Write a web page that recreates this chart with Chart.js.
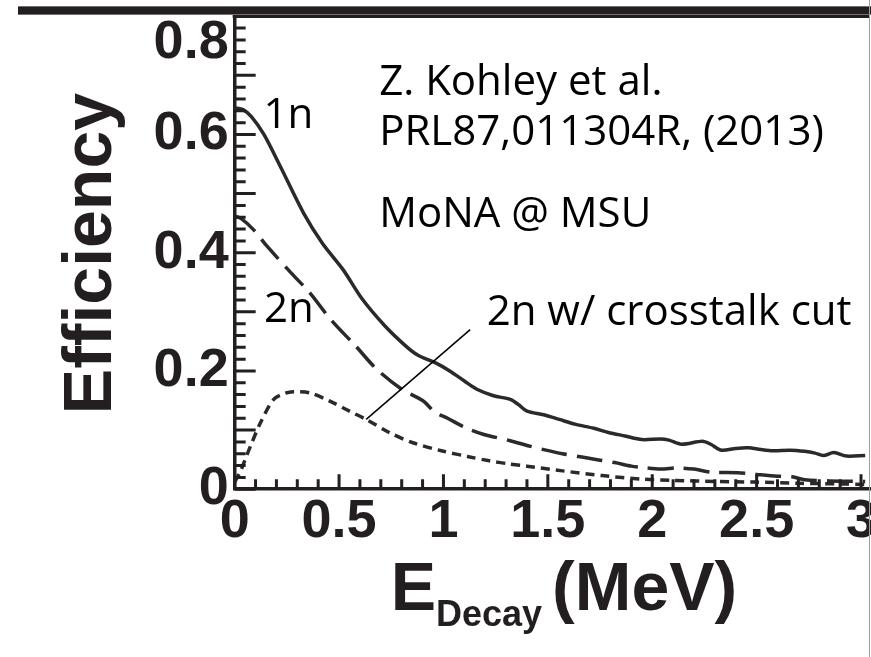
<!DOCTYPE html>
<html>
<head>
<meta charset="utf-8">
<script src="https://cdn.jsdelivr.net/npm/chart.js@4.4.1/dist/chart.umd.min.js"></script>
<style>
  html, body { margin: 0; padding: 0; background: #fff; overflow: hidden; width: 871px; height: 657px; }
  #wrap { position: absolute; left: 0; top: -60px; width: 920px; height: 717px; }
  #banner { position: absolute; left: 18px; top: 6px; width: 853px; height: 7px; background: #231f20;
            border-top: 1px solid #707070; border-bottom: 1px solid #707070; }
  #edge { position: absolute; left: 869px; top: 0; width: 1px; height: 657px; background: #a0a0a0; }
</style>
</head>
<body>
<div id="wrap"><canvas id="chart"></canvas></div>
<div id="banner"></div>
<div id="edge"></div>
<script>
// efficiency vs decay energy (Kohley et al.)
const energy1n = [0, 0.04, 0.08, 0.14, 0.22, 0.33, 0.42, 0.52, 0.61, 0.72, 0.82, 0.88, 0.96, 1.03, 1.1,
  1.16, 1.24, 1.32, 1.36, 1.4, 1.48, 1.555, 1.63, 1.72, 1.79, 1.87, 1.95, 2.04, 2.08, 2.14,
  2.24, 2.28, 2.33, 2.4, 2.46, 2.52, 2.58, 2.66, 2.73, 2.78, 2.82, 2.87, 2.93, 3.02];
const eff1n = [0.645, 0.642, 0.63, 0.6, 0.545, 0.467, 0.416, 0.371, 0.322, 0.276, 0.242, 0.226, 0.214, 0.2, 0.183,
  0.169, 0.158, 0.152, 0.143, 0.132, 0.126, 0.118, 0.11, 0.103, 0.096, 0.09, 0.084, 0.085, 0.083, 0.076,
  0.081, 0.076, 0.066, 0.069, 0.07, 0.067, 0.065, 0.066, 0.064, 0.061, 0.057, 0.062, 0.056, 0.057];

const energy2n = [0, 0.03, 0.09, 0.155, 0.27, 0.36, 0.46, 0.58, 0.68, 0.8, 0.9, 0.96, 1.02, 1.1, 1.19,
  1.32, 1.4, 1.48, 1.57, 1.67, 1.75, 1.82, 1.9, 1.95, 2.04, 2.12, 2.2, 2.28, 2.41, 2.5, 2.6, 2.67, 2.73, 2.85, 3.02];
const eff2n = [0.462, 0.458, 0.439, 0.411, 0.366, 0.332, 0.287, 0.242, 0.203, 0.169, 0.15, 0.13, 0.12, 0.105, 0.093,
  0.082, 0.074, 0.067, 0.06, 0.054, 0.049, 0.045, 0.039, 0.037, 0.034, 0.036, 0.034, 0.029, 0.028, 0.025,
  0.022, 0.021, 0.016, 0.014, 0.013];

const energyCut = [0, 0.03, 0.05, 0.076, 0.123, 0.187, 0.24, 0.28, 0.36, 0.456, 0.55, 0.63, 0.74, 0.85, 0.99,
  1.12, 1.22, 1.31, 1.4, 1.57, 1.76, 1.95, 2.1, 2.3, 2.5, 2.7, 2.9, 3.02];
const effCut = [0.012, 0.032, 0.05, 0.073, 0.112, 0.152, 0.162, 0.165, 0.163, 0.149, 0.132, 0.118, 0.096, 0.079, 0.065,
  0.055, 0.048, 0.043, 0.039, 0.031, 0.023, 0.017, 0.015, 0.013, 0.012, 0.01, 0.009, 0.008];

const xTicks = [0, 0.5, 1, 1.5, 2, 2.5, 3];
const yTicks = [0, 0.2, 0.4, 0.6, 0.8];

// text on the plot, placed in data units
const notes = [
  { text: '1n', x: 0.138, y: 0.611 },
  { text: '2n', x: 0.14, y: 0.282 },
  { text: 'Z. Kohley et al.', x: 0.692, y: 0.667 },
  { text: 'PRL87,011304R, (2013)', x: 0.692, y: 0.582 },
  { text: 'MoNA @ MSU', x: 0.692, y: 0.444 },
  { text: '2n w/ crosstalk cut', x: 1.207, y: 0.2785 }
];
const leaderFrom = [0.63, 0.118];
const leaderTo = [1.128, 0.27];

const ink = '#231f20';
const curve = '#2a2a2a';
const helv = '"Liberation Sans", Arial, sans-serif';

function pairs(xs, ys) {
  return xs.map((x, i) => ({ x: x, y: ys[i] }));
}

// inward ticks + top edge of the frame
const frame = {
  id: 'frame',
  afterDraw(chart) {
    const { ctx, chartArea: a, scales: { x, y } } = chart;
    ctx.save();
    ctx.strokeStyle = ink;
    ctx.lineWidth = 3;
    ctx.beginPath();
    for (let i = 0; i <= 30; i++) {
      const px = x.getPixelForValue(i / 10);
      const len = i % 5 === 0 ? 15 : 10;
      ctx.moveTo(px, a.bottom);
      ctx.lineTo(px, a.bottom - len);
    }
    for (let i = 0; i <= 39; i++) {
      const py = y.getPixelForValue(i * 0.02);
      const len = i % 5 === 0 ? 21 : 11;
      ctx.moveTo(a.left, py);
      ctx.lineTo(a.left + len, py);
    }
    ctx.stroke();
    ctx.beginPath();
    ctx.moveTo(a.left - 2, a.top - 1.5);
    ctx.lineTo(a.right, a.top - 1.5);
    ctx.stroke();
    ctx.restore();
  }
};

// E_Decay (MeV) with a real subscript
const xTitle = {
  id: 'xTitle',
  afterDraw(chart) {
    const { ctx, chartArea: a } = chart;
    ctx.save();
    ctx.fillStyle = ink;
    ctx.textAlign = 'left';
    ctx.textBaseline = 'alphabetic';
    let px = a.left + 156;
    const base = a.bottom + 121;
    ctx.font = 'bold 68px ' + helv;
    ctx.fillText('E', px, base);
    px += ctx.measureText('E').width;
    ctx.font = 'bold 36px ' + helv;
    ctx.fillText('Decay', px, base + 16);
    px += ctx.measureText('Decay').width + 10;
    ctx.font = 'bold 68px ' + helv;
    ctx.fillText('(MeV)', px, base);
    ctx.restore();
  }
};

const labels = {
  id: 'labels',
  afterDatasetsDraw(chart) {
    const { ctx, scales: { x, y } } = chart;
    ctx.save();
    ctx.fillStyle = '#000';
    ctx.font = '42px "Open Sans", sans-serif';
    ctx.textAlign = 'left';
    ctx.textBaseline = 'alphabetic';
    notes.forEach(n => ctx.fillText(n.text, x.getPixelForValue(n.x), y.getPixelForValue(n.y)));
    ctx.strokeStyle = '#000';
    ctx.lineWidth = 1.5;
    ctx.beginPath();
    ctx.moveTo(x.getPixelForValue(leaderFrom[0]), y.getPixelForValue(leaderFrom[1]));
    ctx.lineTo(x.getPixelForValue(leaderTo[0]), y.getPixelForValue(leaderTo[1]));
    ctx.stroke();
    ctx.restore();
  }
};

new Chart(document.getElementById('chart'), {
  type: 'line',
  data: {
    datasets: [
      { label: '1n', data: pairs(energy1n, eff1n), borderColor: curve, borderWidth: 3.5,
        pointRadius: 0, tension: 0.3, fill: false },
      { label: '2n', data: pairs(energy2n, eff2n), borderColor: curve, borderWidth: 3.5,
        borderDash: [26, 10], pointRadius: 0, tension: 0.3, fill: false },
      { label: '2n w/ crosstalk cut', data: pairs(energyCut, effCut), borderColor: curve, borderWidth: 3.5,
        borderDash: [9, 6], pointRadius: 0, tension: 0.3, fill: false }
    ]
  },
  options: {
    responsive: true,
    maintainAspectRatio: false,
    animation: false,
    layout: { padding: { left: 51, right: 50, top: 78, bottom: 101 } },
    plugins: { legend: { display: false }, tooltip: { enabled: false } },
    scales: {
      x: {
        type: 'linear', min: 0, max: 3.043,
        afterBuildTicks: s => { s.ticks = xTicks.map(v => ({ value: v })); },
        ticks: { autoSkip: false, maxRotation: 0, padding: 1, color: ink,
          font: { family: helv, size: 54, weight: 'bold', lineHeight: 1.2 },
          callback: v => String(v) },
        grid: { display: true, drawOnChartArea: false, drawTicks: false },
        border: { display: true, color: ink, width: 3.5 }
      },
      y: {
        type: 'linear', min: 0, max: 0.797,
        afterBuildTicks: s => { s.ticks = yTicks.map(v => ({ value: v })); },
        ticks: { autoSkip: false, padding: 6, color: ink,
          font: { family: helv, size: 54, weight: 'bold', lineHeight: 1 },
          // the top label sits under the banner in the original, so it is pushed down one line
          callback: function (v) { const t = String(v); return v > this.max ? ['', t] : t; } },
        grid: { display: true, drawOnChartArea: false, drawTicks: false },
        border: { display: true, color: ink, width: 3.5 },
        title: { display: true, text: 'Efficiency', color: ink,
          font: { family: helv, size: 68, weight: 'bold', lineHeight: 1.2 },
          padding: { top: 0, bottom: 15 } }
      }
    }
  },
  plugins: [frame, xTitle, labels]
});
</script>
</body>
</html>
